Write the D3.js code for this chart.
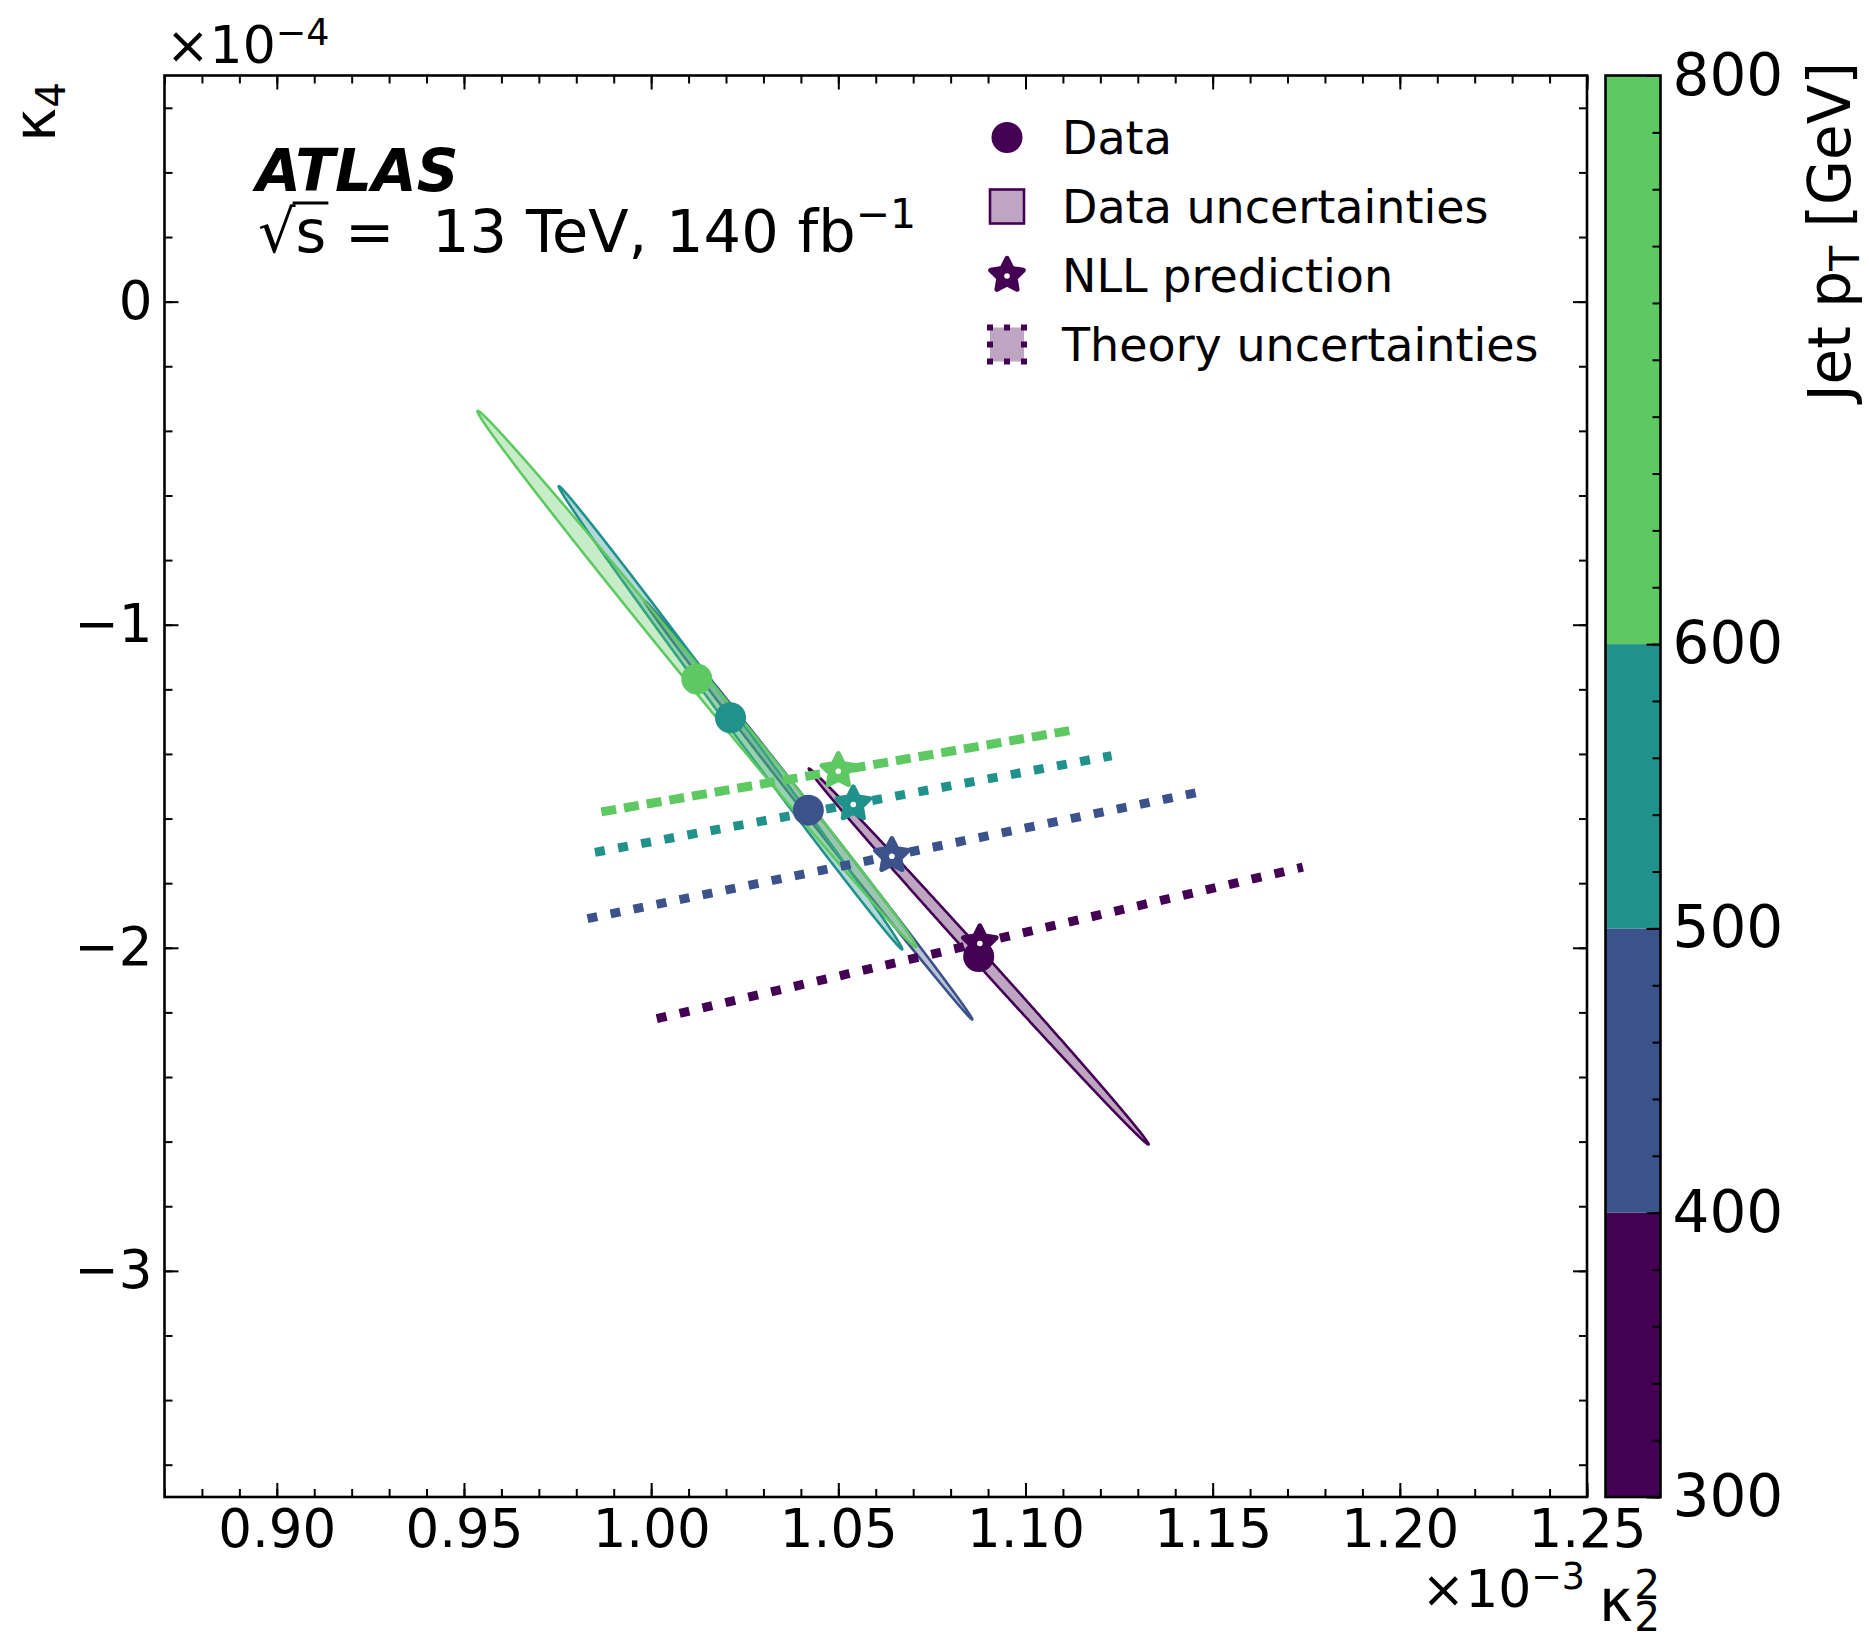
<!DOCTYPE html>
<html><head><meta charset="utf-8">
<script src="https://cdn.jsdelivr.net/npm/d3@7"></script>
<style>
body{margin:0;background:#fff;}
svg text{font-family:"DejaVu Sans",sans-serif;}
</style></head>
<body><svg id="c" width="1869" height="1642"></svg>
<script>
// ---- data (bins in jet pT) ----
const ptEdges = [300, 400, 500, 600, 800];
const binColors = ["#440154", "#3b528b", "#21918c", "#5ec962"];
// measured kappa2^2 (x1e-3) and kappa4 (x1e-4)
const dataK2 = [1.0875, 1.0420, 1.0212, 1.0122];
const dataK4 = [-2.027, -1.574, -1.288, -1.168];
// data uncertainty ellipses: half-extents and correlation
const dataSigK2 = [0.0454, 0.0438, 0.0459, 0.0586];
const dataSigK4 = [0.582, 0.648, 0.717, 0.830];
const dataRho = [-0.99887, -0.99930, -0.99890, -0.99850];
// NLL predictions
const nllK2 = [1.0878, 1.0643, 1.0540, 1.0500];
const nllK4 = [-1.985, -1.715, -1.555, -1.452];
// theory uncertainty half-extents (along a thin, positively correlated band)
const thHalfK2 = [0.0863, 0.0813, 0.0690, 0.0633];
const thHalfK4 = [0.2345, 0.1950, 0.1495, 0.1275];
const thStyle = ["dotted", "dotted", "dotted", "dashed"];
// ticks
const xTicks = [0.90, 0.95, 1.00, 1.05, 1.10, 1.15, 1.20, 1.25];
const yTicks = [0, -1, -2, -3];
const cbTicks = [300, 400, 500, 600, 800];
const legendLabels = ["Data", "Data uncertainties", "NLL prediction", "Theory uncertainties"];

// ---- layout ----
const svg = d3.select("#c");
const M = {l: 164.5, r: 1587, t: 75.5, b: 1497};
const x = d3.scaleLinear().domain([0.87, 1.25]).range([M.l, M.r]);
const y = d3.scaleLinear().domain([-3.7, 0.7]).range([M.b, M.t]);
const cb = d3.scaleLinear().domain([300, 800]).range([M.b, M.t]);
const CB = {l: 1605.5, r: 1660.5};
const FS_TICK = 53, FS_CB = 58, FS_LAB = 58, FS_LEG = 46, FS_ATL = 58;

svg.append("defs").append("clipPath").attr("id", "clip")
  .append("rect").attr("x", M.l).attr("y", M.t).attr("width", M.r - M.l).attr("height", M.b - M.t);
const plot = svg.append("g").attr("clip-path", "url(#clip)");

// data uncertainty ellipses
const ts = d3.range(0, 1440).map(i => i / 1440 * 2 * Math.PI);
const closed = d3.line().curve(d3.curveLinearClosed);
for (let i = 0; i < 4; i++) {
  const r = dataRho[i], s = Math.sqrt(1 - r * r);
  const pts = ts.map(t => [x(dataK2[i] + dataSigK2[i] * Math.cos(t)),
                           y(dataK4[i] + dataSigK4[i] * (r * Math.cos(t) + s * Math.sin(t)))]);
  plot.append("path").attr("d", closed(pts))
    .attr("fill", binColors[i]).attr("fill-opacity", 0.35)
    .attr("stroke", binColors[i]).attr("stroke-width", 2.6);
}
// theory uncertainty bands
const seg = d3.line();
for (let i = 0; i < 4; i++) {
  const pts = [[x(nllK2[i] - thHalfK2[i]), y(nllK4[i] - thHalfK4[i])],
               [x(nllK2[i] + thHalfK2[i]), y(nllK4[i] + thHalfK4[i])]];
  plot.append("path").attr("d", seg(pts)).attr("fill", "none")
    .attr("stroke", binColors[i]).attr("stroke-width", 9)
    .attr("stroke-dasharray", thStyle[i] === "dashed" ? "15,8" : "10,13.5");
}
// data points
for (let i = 0; i < 4; i++) {
  plot.append("circle").attr("cx", x(dataK2[i])).attr("cy", y(dataK4[i])).attr("r", 15.5)
    .attr("fill", binColors[i]);
}
// NLL stars (chunky five-point star)
const fatStar = {
  draw(ctx, size) {
    const R = Math.sqrt(size * 0.8908), ri = R * 0.5;
    for (let k = 0; k < 10; k++) {
      const a = -Math.PI / 2 + k * Math.PI / 5, rr = k % 2 ? ri : R;
      const px = rr * Math.cos(a), py = rr * Math.sin(a);
      if (k === 0) ctx.moveTo(px, py); else ctx.lineTo(px, py);
    }
    ctx.closePath();
  }
};
const star = d3.symbol(fatStar).size(330);
function drawStar(g, cx, cy, col) {
  g.append("path").attr("d", star())
    .attr("transform", `translate(${cx},${cy})`)
    .attr("fill", col).attr("stroke", col).attr("stroke-width", 5)
    .attr("stroke-linejoin", "round");
  g.append("circle").attr("cx", cx).attr("cy", cy + 0.5).attr("r", 2.8).attr("fill", "#fff");
}
for (let i = 0; i < 4; i++) drawStar(plot, x(nllK2[i]), y(nllK4[i]), binColors[i]);

// ---- axes ----
function styleAxis(g, fs) {
  g.select(".domain").remove();
  g.selectAll(".tick line").attr("stroke", "#000").attr("stroke-width", 2);
  g.attr("font-family", "DejaVu Sans").attr("font-size", fs);
  g.selectAll("text").attr("fill", "#000");
}
const xMinor = d3.range(87, 126).map(v => v / 100);
const yMinor = d3.range(-18, 4).map(v => v / 5);
// bottom
svg.append("g").attr("transform", `translate(0,${M.b})`)
  .call(d3.axisBottom(x).tickValues(xMinor).tickFormat("").tickSizeInner(-8).tickSizeOuter(0)).call(g => styleAxis(g, FS_TICK));
svg.append("g").attr("transform", `translate(0,${M.b})`)
  .call(d3.axisBottom(x).tickValues(xTicks).tickFormat(d3.format(".2f")).tickSizeInner(-14).tickSizeOuter(0).tickPadding(12))
  .call(g => styleAxis(g, FS_TICK));
// top
svg.append("g").attr("transform", `translate(0,${M.t})`)
  .call(d3.axisTop(x).tickValues(xMinor).tickFormat("").tickSizeInner(-8).tickSizeOuter(0)).call(g => styleAxis(g, FS_TICK));
svg.append("g").attr("transform", `translate(0,${M.t})`)
  .call(d3.axisTop(x).tickValues(xTicks).tickFormat("").tickSizeInner(-14).tickSizeOuter(0)).call(g => styleAxis(g, FS_TICK));
// left
svg.append("g").attr("transform", `translate(${M.l},0)`)
  .call(d3.axisLeft(y).tickValues(yMinor).tickFormat("").tickSizeInner(-8).tickSizeOuter(0)).call(g => styleAxis(g, FS_TICK));
svg.append("g").attr("transform", `translate(${M.l},0)`)
  .call(d3.axisLeft(y).tickValues(yTicks).tickFormat(d3.format("d")).tickSizeInner(-14).tickSizeOuter(0).tickPadding(12))
  .call(g => styleAxis(g, FS_TICK));
// right
svg.append("g").attr("transform", `translate(${M.r},0)`)
  .call(d3.axisRight(y).tickValues(yMinor).tickFormat("").tickSizeInner(-8).tickSizeOuter(0)).call(g => styleAxis(g, FS_TICK));
svg.append("g").attr("transform", `translate(${M.r},0)`)
  .call(d3.axisRight(y).tickValues(yTicks).tickFormat("").tickSizeInner(-14).tickSizeOuter(0)).call(g => styleAxis(g, FS_TICK));
// frame
svg.append("rect").attr("x", M.l).attr("y", M.t).attr("width", M.r - M.l).attr("height", M.b - M.t)
  .attr("fill", "none").attr("stroke", "#000").attr("stroke-width", 2.6);

// offset texts
const off1 = svg.append("text").attr("x", 166).attr("y", 63).attr("font-size", 52);
off1.append("tspan").text("×10");
off1.append("tspan").attr("font-size", 36.4).attr("dy", -18).text("−4");
const off2 = svg.append("text").attr("x", 1585).attr("y", 1607).attr("font-size", 52).attr("text-anchor", "end");
off2.append("tspan").text("×10");
off2.append("tspan").attr("font-size", 36.4).attr("dy", -18).text("−3");

// axis labels
const yl = svg.append("text").attr("transform", "translate(55,82) rotate(-90)").attr("text-anchor", "end").attr("font-size", FS_LAB);
yl.append("tspan").text("κ");
yl.append("tspan").attr("font-size", 40.6).attr("dy", 10).text("4");
const xl = svg.append("text").attr("x", 1599).attr("y", 1621).attr("font-size", FS_LAB);
xl.append("tspan").text("κ");
xl.append("tspan").attr("font-size", 40.6).attr("dx", 1).attr("dy", -22).text("2");
xl.append("tspan").attr("font-size", 40.6).attr("dx", -25.8).attr("dy", 32).text("2");

// ---- colorbar ----
const cbg = svg.append("g");
for (let i = 0; i < 4; i++) {
  cbg.append("rect").attr("x", CB.l).attr("width", CB.r - CB.l)
    .attr("y", cb(ptEdges[i + 1])).attr("height", cb(ptEdges[i]) - cb(ptEdges[i + 1]))
    .attr("fill", binColors[i]);
}
const cbMinor = d3.range(300, 801, 20);
svg.append("g").attr("transform", `translate(${CB.r},0)`)
  .call(d3.axisRight(cb).tickValues(cbMinor).tickFormat("").tickSizeInner(-8).tickSizeOuter(0)).call(g => styleAxis(g, FS_CB));
svg.append("g").attr("transform", `translate(${CB.r},0)`)
  .call(d3.axisRight(cb).tickValues(cbTicks).tickFormat(d3.format("d")).tickSizeInner(-14).tickSizeOuter(0).tickPadding(12))
  .call(g => styleAxis(g, FS_CB));
svg.append("rect").attr("x", CB.l).attr("y", M.t).attr("width", CB.r - CB.l).attr("height", M.b - M.t)
  .attr("fill", "none").attr("stroke", "#000").attr("stroke-width", 2.6);
const cl = svg.append("text").attr("transform", "translate(1850,62) rotate(-90)").attr("text-anchor", "end")
  .attr("font-size", FS_LAB).style("white-space", "pre");
cl.append("tspan").text("Jet p");
cl.append("tspan").attr("font-size", 40.6).attr("dy", 9).text("T");
cl.append("tspan").attr("dy", -9).text(" [GeV]");

// ---- ATLAS label ----
svg.append("text").attr("x", 256).attr("y", 191).attr("font-size", FS_ATL)
  .attr("font-weight", "bold").attr("font-style", "italic").text("ATLAS");
const sub = svg.append("text").attr("x", 258).attr("y", 252).attr("font-size", 59).style("white-space", "pre");
sub.append("tspan").text("√");
sub.append("tspan").text("s");
sub.append("tspan").text(" =  13 TeV, 140 fb");
sub.append("tspan").attr("font-size", 41).attr("dy", -24).text("−1");
{
  const n = sub.node();
  const e0 = n.getExtentOfChar(0), e1 = n.getExtentOfChar(1);
  svg.append("line").attr("x1", e0.x + e0.width - 3).attr("x2", e1.x + e1.width + 2)
    .attr("y1", 203).attr("y2", 203).attr("stroke", "#000").attr("stroke-width", 3);
}

// ---- legend ----
const LX = 1007, LT = 137.5, LS = 69, TX = 1062;
const lg = svg.append("g");
const legColor = binColors[0];
lg.append("circle").attr("cx", LX).attr("cy", LT).attr("r", 15.5).attr("fill", legColor);
lg.append("rect").attr("x", LX - 17).attr("y", LT + LS - 17).attr("width", 34).attr("height", 34)
  .attr("fill", legColor).attr("fill-opacity", 0.35).attr("stroke", legColor).attr("stroke-width", 2.6);
drawStar(lg, LX, LT + 2 * LS, legColor);
lg.append("rect").attr("x", LX - 17).attr("y", LT + 3 * LS - 17).attr("width", 34).attr("height", 34)
  .attr("fill", legColor).attr("fill-opacity", 0.35).attr("stroke", legColor).attr("stroke-width", 6)
  .attr("stroke-dasharray", "6,11").attr("stroke-dashoffset", 3);
legendLabels.forEach((t, i) => {
  lg.append("text").attr("x", TX).attr("y", LT + i * LS + 16.5).attr("font-size", FS_LEG).text(t);
});
</script>
</body></html>
